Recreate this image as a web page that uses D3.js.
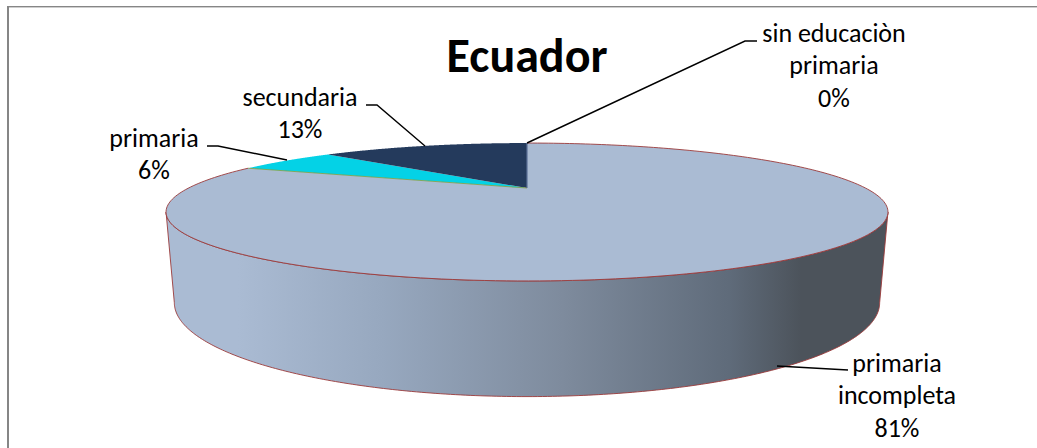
<!DOCTYPE html>
<html><head><meta charset="utf-8">
<script src="https://cdn.jsdelivr.net/npm/d3@7"></script>
<style>html,body{margin:0;padding:0;background:#fff}svg{display:block}</style>
</head><body><svg id="c" width="1037" height="448"></svg>
<script>
const categories = ["primaria incompleta", "primaria", "secundaria", "sin educaciòn primaria"];
const values = [81, 6, 13, 0];
const colors = ["#AABBD3", "#04D2E6", "#243A5C", "#4F81BD"];
const edges = ["#9B3A3A", "#8A9A3A", "#243A5C", "#4F81BD"];
const labelLines = [["primaria","incompleta","81%"],["primaria","6%"],["secundaria","13%"],["sin educaciòn","primaria","0%"]];
const labelPos = [[897,372],[154,147],[300,106],[834,42]];
const leaders = [
  [[848,370],[777,366]],
  [[207,146],[218,146],[287,160]],
  [[366,105],[377,105],[425,146]],
  [[757,41],[745,41],[527,143]]
];
const svg = d3.select("#c");
const font = "Carlito, Lato, Calibri, sans-serif";
const W = 1037, H = 448;

// perspective projection of the pie disc
const cx = 527, apexY = 188, k = 0.348, B = 338.4, A = 60.6;
const proj = (a, sx = 1, sy = 1, dy = 0) => {
  const u = Math.sin(a), v = -Math.cos(a), d = 1 - k * v;
  return [cx + sx * B * u / d, apexY + dy + sy * A * v / d];
};
const bottomSx = 0.977, bottomSy = 1.362, bottomDy = 82;
const line = d3.line();
const pie = d3.pie().value(d => d).sort(null);
const arcs = pie(values);
const sample = (a0, a1, sx = 1, sy = 1, dy = 0, n = 240) =>
  d3.range(n + 1).map(i => proj(a0 + (a1 - a0) * i / n, sx, sy, dy));

// frame
svg.append("rect").attr("x", 7).attr("y", 6).attr("width", 2).attr("height", H - 6).attr("fill", "#868686");
svg.append("rect").attr("x", 7).attr("y", 6).attr("width", W - 7).attr("height", 1.4).attr("fill", "#868686");

// side wall
const aR = Math.PI / 2 + Math.asin(k), aL = 2 * Math.PI - aR;
const grad = svg.append("defs").append("linearGradient").attr("id", "side")
  .attr("gradientUnits", "userSpaceOnUse").attr("x1", 165).attr("x2", 888).attr("y1", 0).attr("y2", 0);
[[0, colors[0]], [0.1, colors[0]], [0.3, "#97A8BF"], [0.55, "#7E8B9D"], [0.78, "#5F6B7A"], [0.88, "#4C535B"], [1, "#4C535B"]]
  .forEach(([o, c]) => grad.append("stop").attr("offset", o).attr("stop-color", c));
const wall = sample(aR, aL).concat(sample(aL, aR, bottomSx, bottomSy, bottomDy));
svg.append("path").attr("d", line(wall) + "Z").attr("fill", "url(#side)")
  .attr("stroke", edges[0]).attr("stroke-width", 0.9);

// top slices
const apex = [cx, apexY];
svg.selectAll("path.slice").data(arcs.filter(d => d.value > 0)).join("path")
  .attr("class", "slice")
  .attr("d", d => line([apex, ...sample(d.startAngle, d.endAngle)]) + "Z")
  .attr("fill", d => colors[d.index]);
// rim of large slice
svg.append("path").attr("d", line(sample(arcs[0].startAngle, arcs[0].endAngle)))
  .attr("fill", "none").attr("stroke", edges[0]).attr("stroke-width", 0.9);
// edges between slices
svg.append("path").attr("d", line([proj(arcs[1].startAngle), apex]))
  .attr("stroke", edges[1]).attr("stroke-width", 0.8).attr("fill", "none");
svg.append("path").attr("d", line([proj(0), apex]))
  .attr("stroke", "#5A6F96").attr("stroke-width", 1.2).attr("fill", "none");

// leader lines
svg.selectAll("path.leader").data(leaders).join("path").attr("class", "leader")
  .attr("d", d => line(d)).attr("fill", "none").attr("stroke", "#000").attr("stroke-width", 1.4);

// labels
const lh = 32.4;
labelLines.forEach((ls, i) => {
  const t = svg.append("text").attr("text-anchor", "middle").attr("font-family", font)
    .attr("font-size", 26).attr("fill", "#000");
  ls.forEach((s, j) => t.append("tspan").attr("x", labelPos[i][0]).attr("y", labelPos[i][1] + j * lh).text(s));
});
svg.append("text").attr("x", 527).attr("y", 72).attr("text-anchor", "middle")
  .attr("font-family", font).attr("font-weight", 700).attr("font-size", 48).attr("fill", "#000").text("Ecuador");
</script></body></html>
